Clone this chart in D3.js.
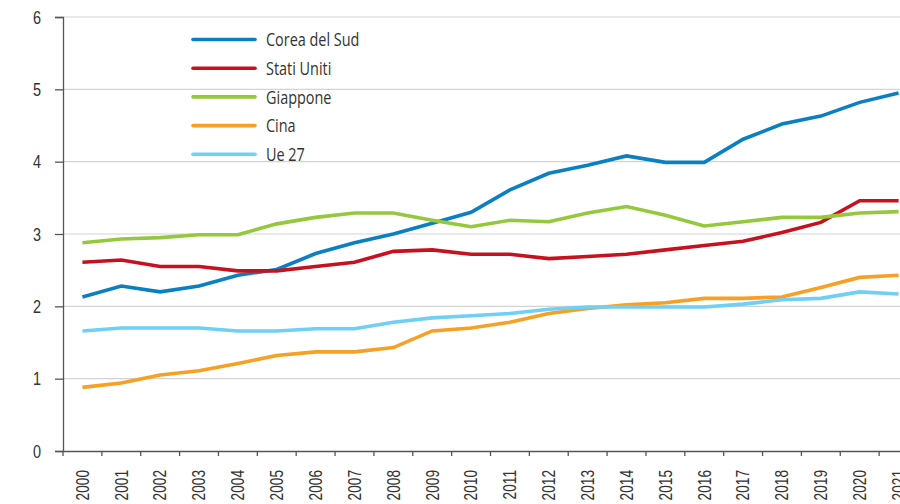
<!DOCTYPE html>
<html>
<head>
<meta charset="utf-8">
<script src="https://cdn.jsdelivr.net/npm/d3@7"></script>
<style>
  body { margin: 0; background: #fff; }
  svg { display: block; font-family: "Liberation Sans Narrow", "Open Sans", sans-serif; }
</style>
</head>
<body>
<svg id="chart" width="900" height="504"></svg>
<script>
// years on the x axis
const years = d3.range(2000, 2022).map(String);

const seriesNames = ['Corea del Sud', 'Stati Uniti', 'Giappone', 'Cina', 'Ue 27'];
const seriesColors = ['#0a7fc2', '#c8111f', '#95c83c', '#f7a023', '#6fcff5'];

const coreaDelSud = [2.13, 2.28, 2.20, 2.28, 2.43, 2.51, 2.73, 2.88, 3.00, 3.15, 3.30, 3.61,
    3.84, 3.95, 4.08, 3.99, 3.99, 4.31, 4.52, 4.63, 4.82, 4.95];
const statiUniti = [2.61, 2.64, 2.55, 2.55, 2.49, 2.49, 2.55, 2.61, 2.76, 2.78, 2.72, 2.72,
    2.66, 2.69, 2.72, 2.78, 2.84, 2.90, 3.02, 3.16, 3.46, 3.46];
const giappone = [2.88, 2.93, 2.95, 2.99, 2.99, 3.14, 3.23, 3.29, 3.29, 3.19, 3.10, 3.19,
    3.17, 3.29, 3.38, 3.26, 3.11, 3.17, 3.23, 3.23, 3.29, 3.31];
const cina = [0.88, 0.94, 1.05, 1.11, 1.21, 1.32, 1.37, 1.37, 1.43, 1.66, 1.70, 1.78,
    1.90, 1.97, 2.02, 2.05, 2.11, 2.11, 2.13, 2.26, 2.40, 2.43];
const ue27 = [1.66, 1.70, 1.70, 1.70, 1.66, 1.66, 1.69, 1.69, 1.78, 1.84, 1.87, 1.90,
    1.96, 1.99, 1.99, 1.99, 1.99, 2.03, 2.09, 2.11, 2.20, 2.17];

const yTicks = [0, 1, 2, 3, 4, 5, 6];

const allSeries = [coreaDelSud, statiUniti, giappone, cina, ue27];

var svg = d3.select('#chart');
var padLeft = 63, padRight = 918, padTop = 17, padBottom = 451;
var squeeze = 0.76;   // no condensed font installed, so squash text horizontally

var x = d3.scaleBand()
    .domain(years)
    .range([padLeft, padRight])
    .padding(0);

var y = d3.scaleLinear()
    .domain([0, 6])
    .range([padBottom, padTop]);

// gridlines
svg.append('g')
    .selectAll('line')
    .data(yTicks.filter(d => d > 0))
    .enter()
    .append('line')
    .attr('x1', padLeft)
    .attr('x2', 900)
    .attr('y1', d => y(d))
    .attr('y2', d => y(d))
    .style('stroke', '#d4d4d4')
    .style('stroke-width', 1.2);

// y axis
var yAxis = svg.append('g')
    .attr('transform', 'translate(' + padLeft + ',0)')
    .call(d3.axisLeft(y).tickValues(yTicks).tickSize(8).tickFormat(d3.format('d')));
yAxis.select('.domain').style('stroke', '#555').style('stroke-width', 1.3);
yAxis.selectAll('line').style('stroke', '#555').style('stroke-width', 1.3);
yAxis.selectAll('text')
    .attr('x', 0)
    .attr('transform', 'translate(-22,0) scale(' + squeeze + ',1)')
    .style('font-size', '19px')
    .style('fill', '#333');

// x axis (labels at band centres, ticks at band borders)
var xAxis = svg.append('g')
    .attr('transform', 'translate(0,' + padBottom + ')')
    .call(d3.axisBottom(x).tickSize(0).tickSizeOuter(0));
xAxis.select('.domain').style('stroke', '#555').style('stroke-width', 1.3);
xAxis.selectAll('text')
    .attr('transform', 'rotate(-90) translate(-19,0) scale(' + squeeze + ',1)')
    .attr('x', 0)
    .attr('y', 0)
    .attr('dy', '0.35em')
    .style('text-anchor', 'end')
    .style('font-size', '18px')
    .style('fill', '#333');

xAxis.selectAll('.border')
    .data(years)
    .enter()
    .append('line')
    .attr('class', 'border')
    .attr('x1', d => x(d))
    .attr('x2', d => x(d))
    .attr('y1', 0)
    .attr('y2', 5)
    .style('stroke', '#555')
    .style('stroke-width', 1.3);

// lines
var line = d3.line()
    .x((d, i) => x(years[i]) + x.bandwidth() / 2)
    .y(d => y(d));

svg.append('g')
    .selectAll('path')
    .data(allSeries)
    .enter()
    .append('path')
    .attr('d', d => line(d))
    .style('fill', 'none')
    .style('stroke', (d, i) => seriesColors[i])
    .style('stroke-width', 3.6)
    .style('stroke-linejoin', 'miter');

// legend
var legend = svg.append('g')
    .selectAll('g')
    .data(seriesNames)
    .enter()
    .append('g')
    .attr('transform', (d, i) => 'translate(193,' + (39.5 + i * 28.7) + ')');

legend.append('line')
    .attr('x1', 0)
    .attr('x2', 62)
    .style('stroke', (d, i) => seriesColors[i])
    .style('stroke-width', 3.6)
    .style('stroke-linecap', 'round');

legend.append('text')
    .attr('transform', 'translate(73,0) scale(' + squeeze + ',1)')
    .attr('dy', '0.35em')
    .style('font-size', '19px')
    .style('fill', '#333')
    .text(d => d);
</script>
</body>
</html>
